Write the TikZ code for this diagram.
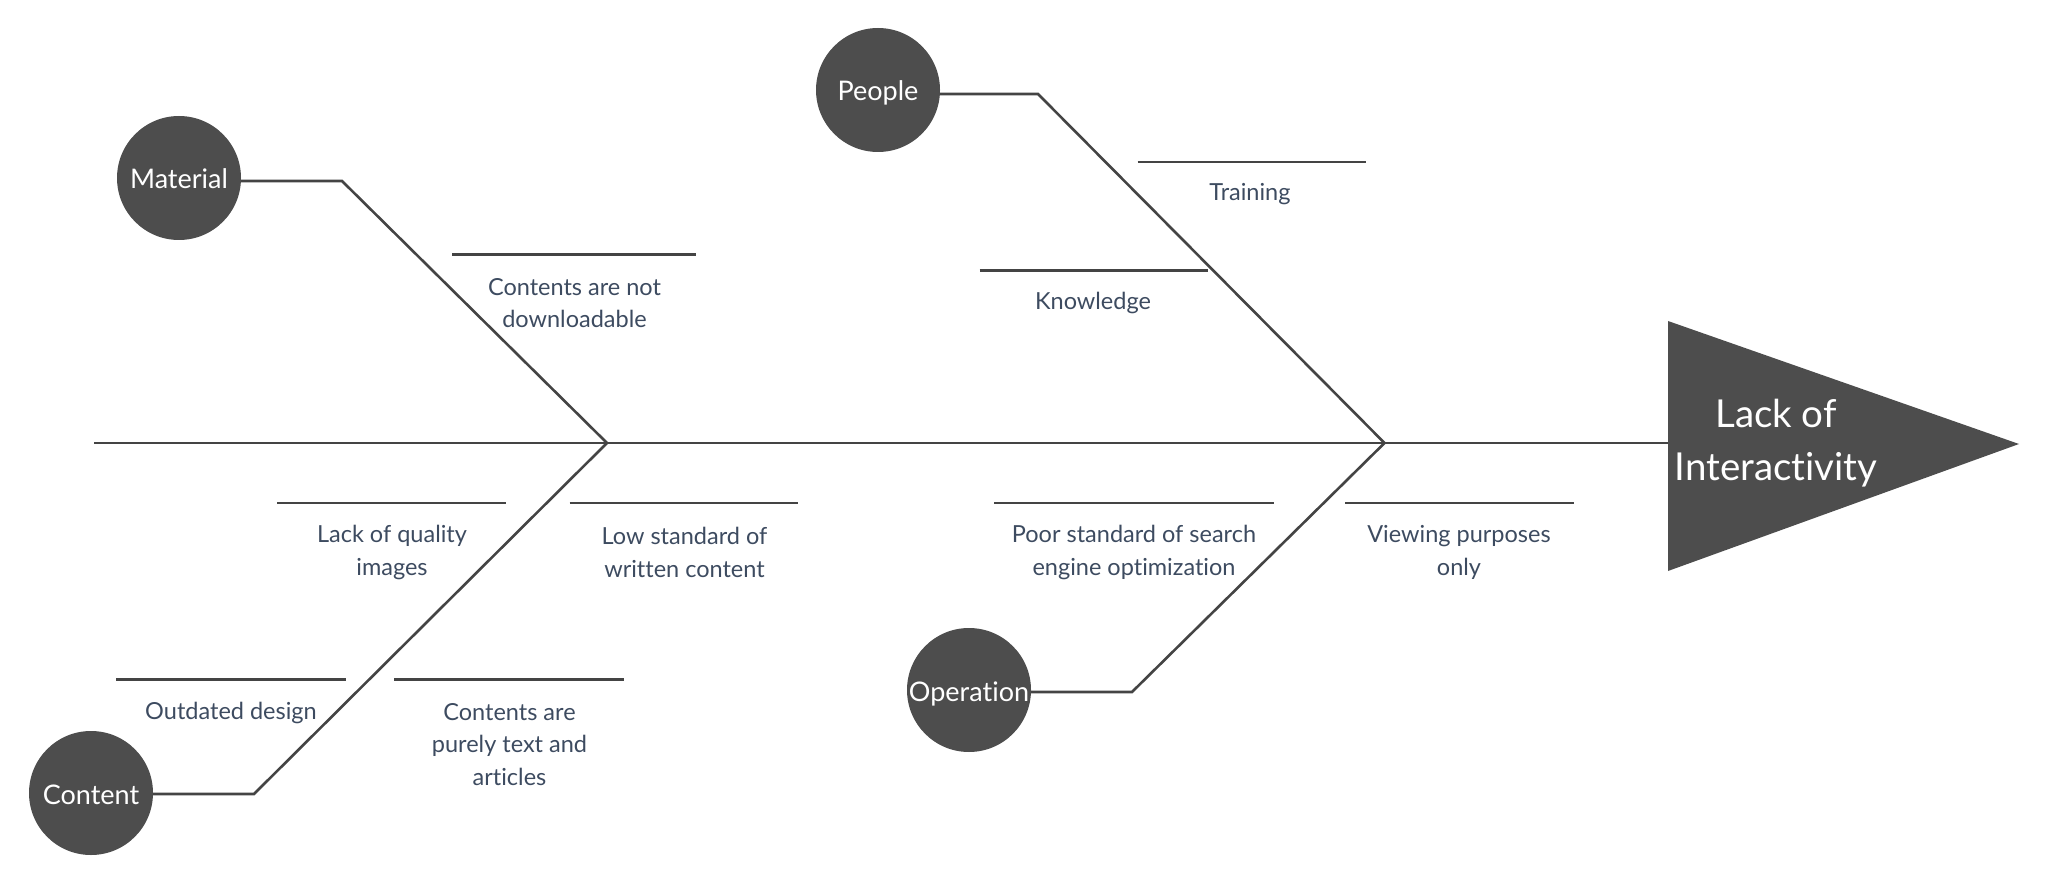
\documentclass[tikz,border=0pt]{standalone}
\usepackage{fontspec}
\setmainfont{Lato}[Ligatures={NoCommon,NoRare}]
\definecolor{boneline}{HTML}{444444}
\definecolor{catfill}{HTML}{4D4D4D}
\definecolor{labeltext}{HTML}{3D4B60}
\begin{document}
\begin{tikzpicture}[x=1pt,y=-1pt,
  bone/.style={draw=boneline,line width=2.6pt,line cap=butt,line join=miter},
  uline/.style={draw=boneline,line width=2.6pt},
  cat/.style={circle,fill=catfill,minimum size=124pt,inner sep=0pt,text=white,
    text height=24pt,text depth=2pt,font=\fontsize{27}{30}\selectfont},
  lbl/.style={align=center,text=labeltext,inner sep=0pt,font=\fontsize{23.5}{32.5}\selectfont},
  head/.style={align=center,text=white,inner sep=0pt,font=\fontsize{38.5}{53.5}\selectfont}]
\useasboundingbox (0,0) rectangle (2048,885);

% spine and head
\coordinate (spineL) at (94,443);
\coordinate (jL) at (607,443);
\coordinate (jR) at (1384.5,443);
\coordinate (tA) at (1668,321);
\coordinate (tB) at (1668,571);
\coordinate (tTip) at (2019,444);
\coordinate (spineR) at (1668,443);
\fill[catfill] (tA) -- (tTip) -- (tB) -- cycle;
\node[head] (effect) at (1776,443) {Lack of\\Interactivity};
\draw[bone] (spineL) -- (jL) -- (jR) -- (spineR);

% categories
\node[cat] (material) at (179,178) {Material};
\node[cat] (people) at (878,90) {People};
\node[cat] (content) at (91,793) {Content};
\node[cat] (operation) at (969,690) {Operation};

\coordinate (kMat) at (342,181);
\coordinate (kPeo) at (1038,94);
\coordinate (kCon) at (254,794);
\coordinate (kOpe) at (1132,692);

\draw[bone] (material.east |- kMat) -- (kMat) -- (jL);
\draw[bone] (people.east |- kPeo) -- (kPeo) -- (jR);
\draw[bone] (content.east |- kCon) -- (kCon) -- (jL);
\draw[bone] (operation.east |- kOpe) -- (kOpe) -- (jR);

% causes
\coordinate (c1a) at (452,254.5); \coordinate (c1b) at (696,254.5);
\draw[uline] (c1a) -- (c1b);
\node[lbl] (c1) at (574.5,303) {Contents are not\\downloadable};

\coordinate (c2a) at (1137.5,162); \coordinate (c2b) at (1366,162);
\draw[uline] (c2a) -- (c2b);
\node[lbl] (c2) at (1250,194) {Training};

\coordinate (c3a) at (979.5,270.5); \coordinate (c3b) at (1208,270.5);
\draw[uline] (c3a) -- (c3b);
\node[lbl] (c3) at (1093,302.5) {Knowledge};

\coordinate (c4a) at (277,503); \coordinate (c4b) at (505.5,503);
\draw[uline] (c4a) -- (c4b);
\node[lbl] (c4) at (392,552.5) {Lack of quality\\images};

\coordinate (c5a) at (569.5,503); \coordinate (c5b) at (798,503);
\draw[uline] (c5a) -- (c5b);
\node[lbl] (c5) at (684.5,552.5) {Low standard of\\written content};

\coordinate (c6a) at (994,503); \coordinate (c6b) at (1273.5,503);
\draw[uline] (c6a) -- (c6b);
\node[lbl] (c6) at (1134,552.5) {Poor standard of search\\engine optimization};

\coordinate (c7a) at (1345,503); \coordinate (c7b) at (1574,503);
\draw[uline] (c7a) -- (c7b);
\node[lbl] (c7) at (1459,552.5) {Viewing purposes\\only};

\coordinate (c8a) at (116,679.3); \coordinate (c8b) at (345.5,679.3);
\draw[uline] (c8a) -- (c8b);
\node[lbl] (c8) at (231,712.5) {Outdated design};

\coordinate (c9a) at (394,679.3); \coordinate (c9b) at (623.5,679.3);
\draw[uline] (c9a) -- (c9b);
\node[lbl] (c9) at (509.5,744.5) {Contents are\\purely text and\\articles};
\end{tikzpicture}
\end{document}
